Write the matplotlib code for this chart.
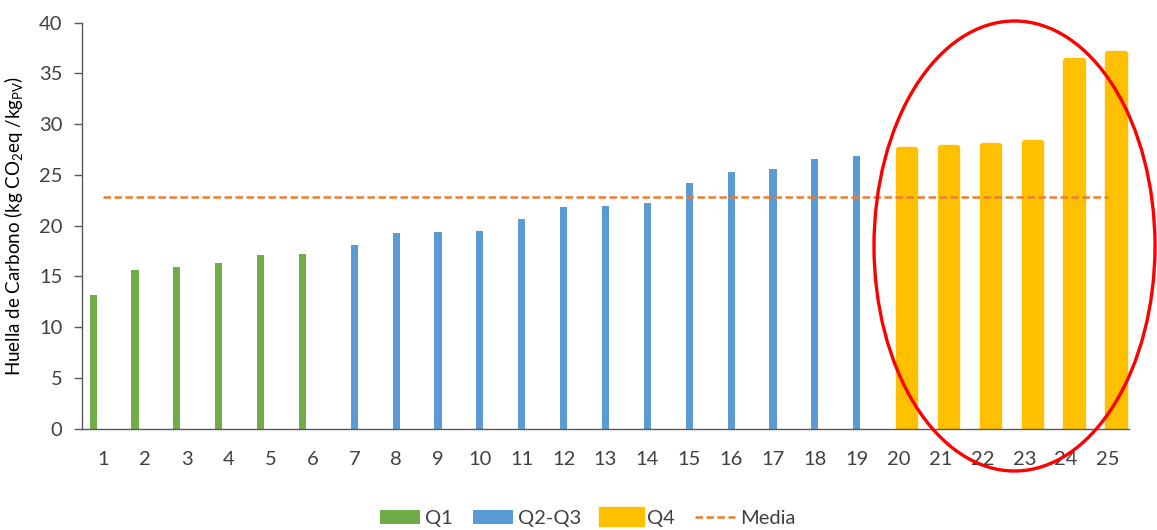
import numpy as np
import matplotlib; matplotlib.use("Agg")
import matplotlib.pyplot as plt
from matplotlib.patches import Ellipse

plt.rcParams['font.family'] = ['Lato', 'DejaVu Sans']
plt.rcParams['mathtext.default'] = 'regular'

# ---- data ----
cats = list(range(1, 26))
q1_idx = [1, 2, 3, 4, 5, 6]
q1_vals = [13.2, 15.6, 15.9, 16.3, 17.1, 17.2]
q23_idx = [7, 8, 9, 10, 11, 12, 13, 14, 15, 16, 17, 18, 19]
q23_vals = [18.1, 19.3, 19.4, 19.5, 20.7, 21.8, 21.9, 22.2, 24.2, 25.3, 25.6, 26.6, 26.9]
q4_idx = [20, 21, 22, 23, 24, 25]
q4_vals = [27.8, 28.0, 28.2, 28.5, 36.5, 37.2]
media = 22.8

GREEN = "#70AD47"; BLUE = "#5B9BD5"; YELLOW = "#FFC000"; ORANGE = "#ED7D31"
TXT = "#404040"

fig = plt.figure(figsize=(11.57, 5.30), dpi=100)
ax = fig.add_axes([0.0709, 0.1911, 0.9758 - 0.0709, 0.9572 - 0.1911])

b1 = ax.bar(np.array(q1_idx) - 0.235, q1_vals, width=0.17, color=GREEN, label="Q1", zorder=2)
b2 = ax.bar(q23_idx, q23_vals, width=0.17, color=BLUE, label="Q2-Q3", zorder=2)
# Q4: rounded look via thick edge with round joins (edge adds ~3 px each side)
edge_pt = 4.6
edge_units = (edge_pt / 2 * 100 / 72) / (1047 / 25)   # half edge in x data units
edge_y = (edge_pt / 2 * 100 / 72) / (406 / 40)        # half edge in y data units
b3 = ax.bar(np.array(q4_idx) + 0.2, np.array(q4_vals) - edge_y, width=0.54 - 2 * edge_units,
            color=YELLOW, edgecolor=YELLOW, linewidth=edge_pt, joinstyle='round',
            label="Q4", zorder=2)
ln, = ax.plot(cats, [media] * len(cats), color=ORANGE, lw=1.8, linestyle=(0, (3, 1.4)),
              label="Media", zorder=3)

ax.set_xlim(0.5, 25.5)
ax.set_ylim(0, 40)
ax.set_yticks(range(0, 41, 5))
ax.set_xticks(cats)
ax.tick_params(axis='y', labelsize=14.5, colors=TXT, length=6, width=1, pad=8, color="#595959")
ax.tick_params(axis='x', labelsize=14.5, colors=TXT, length=0, pad=16)
for s in ["top", "right"]:
    ax.spines[s].set_visible(False)
for s in ["left", "bottom"]:
    ax.spines[s].set_color("#595959")
    ax.spines[s].set_linewidth(1)

ax.set_ylabel("Huella de Carbono (kg CO$_2$eq /kg$_{PV}$)", fontsize=13.5, color="black", labelpad=10)

leg = fig.legend(handles=[b1, b2, b3, ln], labels=["Q1", "Q2-Q3", "Q4", "Media"],
                 loc="center", bbox_to_anchor=(0.508, 0.021), ncol=4, frameon=False,
                 fontsize=14.5, handlelength=2.0, handletextpad=0.25, columnspacing=1.0,
                 labelcolor=TXT)

# red highlight ellipse (figure coordinates)
ell = Ellipse((1014.5 / 1157, 1 - 246 / 530), 281 / 1157, 450 / 530,
              transform=fig.transFigure, fill=False, edgecolor="#FF0000", lw=2.4, zorder=10)
fig.patches.append(ell)

fig.savefig("out.png", dpi=100)
